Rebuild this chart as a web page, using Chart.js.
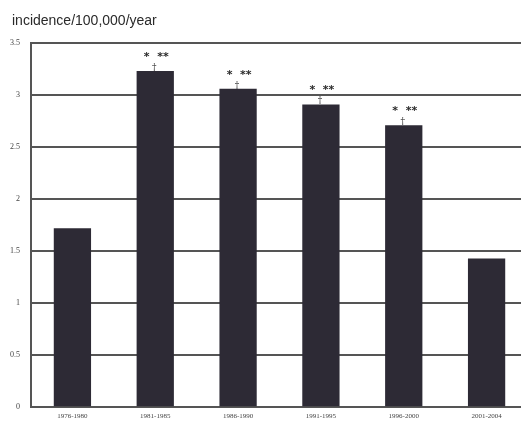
<!DOCTYPE html>
<html>
<head>
<meta charset="utf-8">
<script src="https://cdn.jsdelivr.net/npm/chart.js@4/dist/chart.umd.min.js"></script>
<style>
  body { margin: 0; background: #fff; overflow: hidden; }
  #wrap { position: relative; width: 528px; height: 423px; }
</style>
</head>
<body>
<div id="wrap"><canvas id="incChart"></canvas></div>
<script>
const periods = ["1976-1980", "1981-1985", "1986-1990", "1991-1995", "1996-2000", "2001-2004"];
const incidence = [1.72, 3.23, 3.06, 2.91, 2.71, 1.43];
const marks = ["", "*  **", "*  **", "*  **", "*  **", ""];
const yTicks = [0, 0.5, 1, 1.5, 2, 2.5, 3, 3.5];
const titleText = "incidence/100,000/year";

// axis title sits top-left, a little in from the edge
const titlePlugin = {
    id: "topTitle",
    afterDraw(chart) {
        const ctx = chart.ctx;
        ctx.save();
        ctx.fillStyle = "#2a2a2a";
        ctx.font = "14px 'Liberation Sans'";
        ctx.textAlign = "left";
        ctx.textBaseline = "alphabetic";
        ctx.fillText(titleText, 12, 25);
        ctx.restore();
    }
};

// draws the significance marks above the bars
const markPlugin = {
    id: "marks",
    afterDatasetsDraw(chart) {
        const ctx = chart.ctx;
        const meta = chart.getDatasetMeta(0);
        ctx.save();
        ctx.fillStyle = "#2a2a2a";
        ctx.textAlign = "center";
        marks.forEach((m, i) => {
            if (!m) return;
            const bar = meta.data[i];
            ctx.font = "bold 11px 'DejaVu Sans'";
            ctx.textBaseline = "alphabetic";
            ctx.fillText(m, bar.x + 1, bar.y - 11);
            ctx.font = "9px 'DejaVu Serif'";
            ctx.fillText("\u2020", bar.x - 1, bar.y - 1);
        });
        ctx.restore();
    }
};

const ctx = document.getElementById("incChart").getContext("2d");
new Chart(ctx, {
    type: "bar",
    data: {
        labels: periods,
        datasets: [{
            data: incidence,
            backgroundColor: "#2d2a35",
            borderWidth: 0,
            categoryPercentage: 1.0,
            barPercentage: 0.45
        }]
    },
    options: {
        responsive: true,
        maintainAspectRatio: false,
        animation: false,
        layout: { padding: { top: 43, left: 0, right: 0, bottom: -2 } },
        plugins: {
            legend: { display: false },
            tooltip: { enabled: false },
            title: { display: false }
        },
        scales: {
            x: {
                grid: { display: false, drawTicks: false },
                border: { display: true, color: "#555", width: 2 },
                ticks: {
                    color: "#444",
                    font: { family: "Liberation Serif", size: 7 },
                    padding: 5,
                    maxRotation: 0,
                    autoSkip: false
                },
                afterFit(scale) { scale.height = 14; }
            },
            y: {
                min: 0,
                max: 3.5,
                afterBuildTicks(scale) {
                    scale.ticks = yTicks.map(v => ({ value: v }));
                },
                grid: { color: "#555", lineWidth: 2, drawTicks: false },
                border: { display: true, color: "#555", width: 2 },
                ticks: {
                    color: "#444",
                    font: { family: "Liberation Serif", size: 8 },
                    padding: 11,
                    callback: v => String(v)
                },
                afterFit(scale) { scale.width = 31; }
            }
        }
    },
    plugins: [markPlugin, titlePlugin]
});
</script>
</body>
</html>
